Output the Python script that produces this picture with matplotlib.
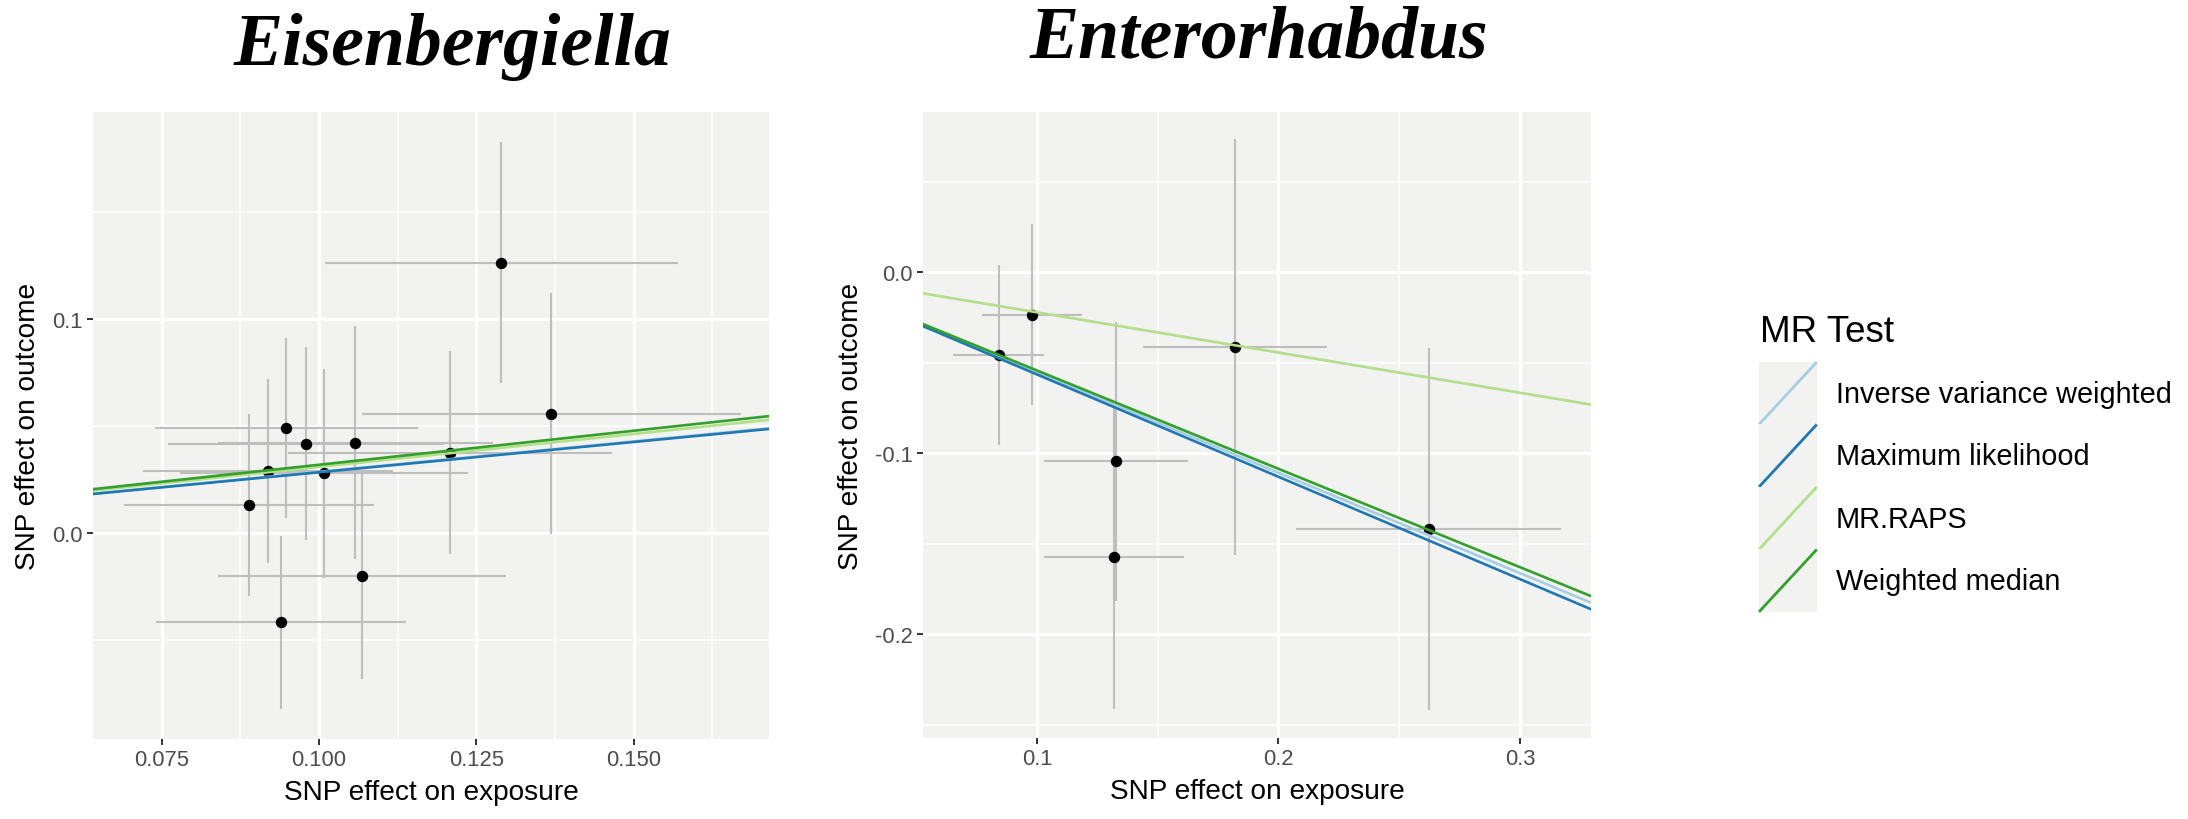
import matplotlib
matplotlib.use("Agg")
import matplotlib.pyplot as plt
from matplotlib.lines import Line2D
from matplotlib.patches import Rectangle
from matplotlib.legend_handler import HandlerBase

# ---------------- data ----------------
titles = ["Eisenbergiella", "Enterorhabdus"]
legend_title = "MR Test"
methods = ["Inverse variance weighted", "Maximum likelihood", "MR.RAPS", "Weighted median"]
method_colors = ["#A6CEE3", "#1F78B4", "#B2DF8A", "#33A02C"]

# Panel 1: Eisenbergiella
bx1 = [0.1290, 0.1369, 0.0948, 0.0979, 0.1058, 0.1208, 0.0919, 0.1008, 0.0889, 0.1068, 0.0940]
by1 = [0.1263, 0.0557, 0.0490, 0.0416, 0.0422, 0.0374, 0.0289, 0.0278, 0.0128, -0.0204, -0.0418]
bx1_se = [0.0280, 0.0301, 0.0209, 0.0219, 0.0219, 0.0257, 0.0199, 0.0228, 0.0199, 0.0229, 0.0199]
by1_se = [0.0565, 0.0565, 0.0422, 0.0452, 0.0544, 0.0475, 0.0428, 0.0488, 0.0425, 0.0478, 0.0405]
slopes1 = [0.285, 0.283, 0.308, 0.318]

# Panel 2: Enterorhabdus
bx2 = [0.0978, 0.0841, 0.1820, 0.1327, 0.1319, 0.2622]
by2 = [-0.0236, -0.0458, -0.0414, -0.1043, -0.1572, -0.1417]
bx2_se = [0.0207, 0.0189, 0.0380, 0.0299, 0.0289, 0.0549]
by2_se = [0.0500, 0.0496, 0.1148, 0.0770, 0.0840, 0.0999]
slopes2 = [-0.554, -0.565, -0.222, -0.543]

# ticks
x1_ticks = [0.075, 0.100, 0.125, 0.150]
x1_labels = ["0.075", "0.100", "0.125", "0.150"]
x1_minor = [0.0875, 0.1125, 0.1375, 0.1625]
y1_ticks = [0.0, 0.1]
y1_labels = ["0.0", "0.1"]
y1_minor = [-0.05, 0.05, 0.15]

x2_ticks = [0.1, 0.2, 0.3]
x2_labels = ["0.1", "0.2", "0.3"]
x2_minor = [0.15, 0.25]
y2_ticks = [-0.2, -0.1, 0.0]
y2_labels = ["-0.2", "-0.1", "0.0"]
y2_minor = [-0.25, -0.15, -0.05, 0.05]

# ---------------- style ----------------
BG = "#F2F2F0"
SANS = ["Liberation Sans", "DejaVu Sans"]
SERIF = ["Liberation Serif", "DejaVu Serif"]
plt.rcParams["font.family"] = SANS

W, H = 2188, 820
fig = plt.figure(figsize=(W / 100, H / 100), dpi=100)


def px_axes(l, t, r, b):
    return fig.add_axes([l / W, 1 - b / H, (r - l) / W, (b - t) / H])


def draw_panel(ax, bx, by, sx, sy, slopes, xlim, ylim, xt, xl, xm, yt, yl, ym):
    ax.set_facecolor(BG)
    for s in ax.spines.values():
        s.set_visible(False)
    ax.set_xlim(*xlim)
    ax.set_ylim(*ylim)
    ax.set_xticks(xt)
    ax.set_xticklabels(xl)
    ax.set_xticks(xm, minor=True)
    ax.set_yticks(yt)
    ax.set_yticklabels(yl)
    ax.set_yticks(ym, minor=True)
    ax.grid(True, which="major", color="white", lw=2.2, zorder=0)
    ax.grid(True, which="minor", color="white", lw=1.1, zorder=0)
    ax.set_axisbelow(True)
    ax.tick_params(which="major", length=4.5, width=1.4, color="#333333",
                   labelsize=15.8, labelcolor="#4D4D4D", pad=3)
    ax.tick_params(which="minor", length=0)
    ax.errorbar(bx, by, yerr=sy, fmt="none", ecolor="#BEBEBE", elinewidth=1.5, capsize=0, zorder=2)
    ax.errorbar(bx, by, xerr=sx, fmt="none", ecolor="#BEBEBE", elinewidth=1.5, capsize=0, zorder=2)
    ax.plot(bx, by, "o", color="black", ms=7.2, zorder=3)
    for b, c in zip(slopes, method_colors):
        ax.axline((0, 0), slope=b, color=c, lw=1.9, zorder=4)
    ax.set_xlabel("SNP effect on exposure", fontsize=20.2, labelpad=6)
    ax.set_ylabel("SNP effect on outcome", fontsize=20.2, labelpad=8)


ax1 = px_axes(93, 113, 769, 740)
draw_panel(ax1, bx1, by1, bx1_se, by1_se, slopes1, (0.0641, 0.1715), (-0.0964, 0.1967),
           x1_ticks, x1_labels, x1_minor, y1_ticks, y1_labels, y1_minor)
ax2 = px_axes(923, 113, 1591, 739)
draw_panel(ax2, bx2, by2, bx2_se, by2_se, slopes2, (0.0528, 0.3294), (-0.2572, 0.0884),
           x2_ticks, x2_labels, x2_minor, y2_ticks, y2_labels, y2_minor)

fig.text(452.5 / W, 1 - 65 / H, titles[0], family=SERIF, style="italic", weight="bold",
         fontsize=53, ha="center", va="baseline")
fig.text(1258.5 / W, 1 - 57 / H, titles[1], family=SERIF, style="italic", weight="bold",
         fontsize=53, ha="center", va="baseline")


class DiagHandler(HandlerBase):
    def create_artists(self, legend, orig_handle, xdescent, ydescent, width, height, fontsize, trans):
        bg = Rectangle((-xdescent, -ydescent), width, height, facecolor=BG, edgecolor="none",
                       transform=trans)
        ln = Line2D([-xdescent, -xdescent + width], [-ydescent, -ydescent + height],
                    color=orig_handle.get_color(), lw=orig_handle.get_linewidth(),
                    solid_capstyle="butt", transform=trans)
        return [bg, ln]


# legend title as its own text, keys below it
fig.text(1760 / W, 1 - 342 / H, legend_title, fontsize=26.5, ha="left", va="baseline")
handles = [Line2D([], [], color=c, lw=2.0) for c in method_colors]
leg = fig.legend(handles, methods, loc="upper left", bbox_to_anchor=(1759 / W, 1 - 363 / H),
                 frameon=False, fontsize=20.8,
                 handlelength=2.0, handleheight=2.95, labelspacing=0.0, handletextpad=0.66,
                 borderpad=0, borderaxespad=0,
                 handler_map={Line2D: DiagHandler()})

fig.savefig("out.png", dpi=100, facecolor="white")
